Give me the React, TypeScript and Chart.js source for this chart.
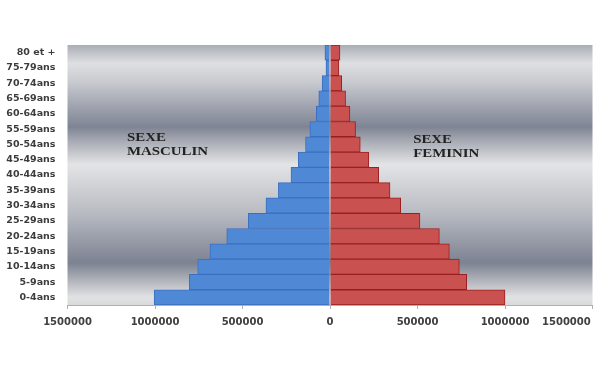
import React, { useEffect, useRef } from "react";
import { Chart, registerables } from "chart.js";

Chart.register(...registerables);

const ageLabels = [
  "80 et +", "75-79ans", "70-74ans", "65-69ans", "60-64ans", "55-59ans",
  "50-54ans", "45-49ans", "40-44ans", "35-39ans", "30-34ans", "25-29ans",
  "20-24ans", "15-19ans", "10-14ans", "5-9ans", "0-4ans",
];

const maleValues = [
  29000, 23000, 45000, 64000, 78000, 115000, 140000, 181000, 223000,
  295000, 366000, 467000, 590000, 686000, 756000, 804000, 1005000,
];

const femaleValues = [
  57000, 51000, 67000, 89000, 114000, 146000, 173000, 222000, 278000,
  343000, 404000, 514000, 625000, 682000, 739000, 781000, 1000000,
];

const xTickValues = [-1500000, -1000000, -500000, 0, 500000, 1000000, 1500000];

const maleTitle = ["SEXE", "MASCULIN"];
const femaleTitle = ["SEXE", "FEMININ"];

const bandPlugin = {
  id: "bandBackground",
  beforeDraw(chart: any) {
    const { ctx, chartArea } = chart;
    const { left, top, right, bottom } = chartArea;
    const g = ctx.createLinearGradient(0, top, 0, bottom);
    g.addColorStop(0, "#a9adb5");
    g.addColorStop(0.07, "#dedfe2");
    g.addColorStop(0.14, "#c9cbd0");
    g.addColorStop(0.315, "#7f8494");
    g.addColorStop(0.37, "#a8abb4");
    g.addColorStop(0.46, "#e4e4e6");
    g.addColorStop(0.646, "#b8bbc2");
    g.addColorStop(0.838, "#7d8292");
    g.addColorStop(0.905, "#b0b3ba");
    g.addColorStop(0.97, "#e2e2e4");
    g.addColorStop(1, "#d8d9dc");
    ctx.save();
    ctx.fillStyle = g;
    ctx.fillRect(left, top, right - left, bottom - top);
    ctx.restore();
  },
};

const titlePlugin = {
  id: "sexTitles",
  afterDatasetsDraw(chart: any) {
    const { ctx, chartArea } = chart;
    const xs = chart.scales.x;
    const drawBlock = (lines: string[], value: number, dy: number) => {
      const x0 = xs.getPixelForValue(value);
      ctx.save();
      ctx.fillStyle = "#222222";
      ctx.font = "bold 12px 'Liberation Serif', 'DejaVu Serif', serif";
      ctx.textBaseline = "alphabetic";
      ctx.textAlign = "left";
      lines.forEach((t, i) => {
        ctx.save();
        ctx.translate(x0, chartArea.top + dy + i * 14.5);
        ctx.scale(1.24, 1);
        ctx.fillText(t, 0, 0);
        ctx.restore();
      });
      ctx.restore();
    };
    drawBlock(maleTitle, -1160000, 95.5);
    drawBlock(femaleTitle, 475000, 97.5);
  },
};

export default function App() {
  const canvasRef = useRef<HTMLCanvasElement | null>(null);

  useEffect(() => {
    if (!canvasRef.current) return;
    const chart = new Chart(canvasRef.current, {
      type: "bar",
      data: {
        labels: ageLabels,
        datasets: [
          {
            label: "Sexe masculin",
            data: maleValues.map((v) => -v),
            backgroundColor: "#4f88d4",
            borderColor: "#3b6fc2",
            borderWidth: 1,
            barPercentage: 1,
            categoryPercentage: 1,
          },
          {
            label: "Sexe féminin",
            data: femaleValues,
            backgroundColor: "#c9514f",
            borderColor: "#9a1f1f",
            borderWidth: 1,
            barPercentage: 1,
            categoryPercentage: 1,
          },
        ],
      },
      options: {
        indexAxis: "y",
        responsive: false,
        animation: false,
        layout: { padding: { top: 45, right: 7.5, bottom: 0, left: 0 } },
        plugins: {
          legend: { display: false },
          tooltip: { enabled: false },
        },
        scales: {
          x: {
            stacked: true,
            min: -1500000,
            max: 1500000,
            afterBuildTicks: (scale: any) => {
              scale.ticks = xTickValues.map((v) => ({ value: v }));
            },
            afterFit: (scale: any) => {
              scale.height = 67;
              scale.paddingLeft = 0;
              scale.paddingRight = 0;
            },
            grid: {
              display: true,
              drawOnChartArea: false,
              drawTicks: true,
              tickLength: 4,
              color: "#b0b0b0",
            },
            border: { display: true, color: "#b0b0b0" },
            ticks: {
              padding: 7,
              color: "#404040",
              font: { family: "'DejaVu Sans', sans-serif", size: 10, weight: "bold" },
              maxRotation: 0,
              autoSkip: false,
              callback: (value: any, index: number, ticks: any[]) => {
                const s = String(Math.abs(Number(value)));
                return index === ticks.length - 1 ? s + " ".repeat(15) : s;
              },
            },
          },
          y: {
            stacked: true,
            afterFit: (scale: any) => {
              scale.width = 67.5;
            },
            grid: { display: false, drawTicks: false },
            border: { display: false },
            ticks: {
              padding: 12,
              crossAlign: "near",
              color: "#3c3c3c",
              font: { family: "'DejaVu Sans', sans-serif", size: 9.5, weight: "bold" },
              autoSkip: false,
            },
          },
        },
      },
      plugins: [bandPlugin, titlePlugin],
    });
    return () => chart.destroy();
  }, []);

  return (
    <div style={{ position: "fixed", left: 0, top: 0, width: 600, height: 372, background: "#ffffff" }}>
      <canvas ref={canvasRef} width={600} height={372} />
    </div>
  );
}
